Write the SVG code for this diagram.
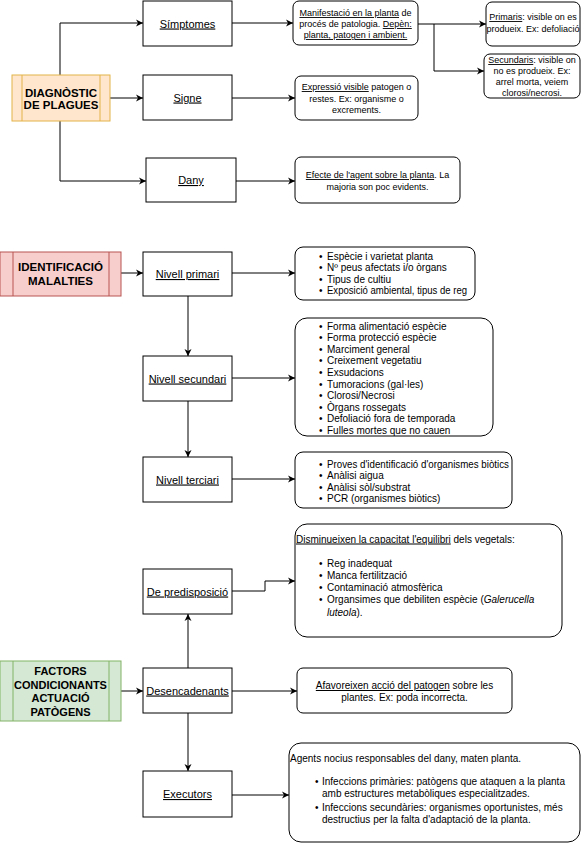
<svg xmlns="http://www.w3.org/2000/svg" width="585" height="848" viewBox="0 0 585 848">
<defs>
<marker id="arr" markerWidth="8" markerHeight="8" refX="7" refY="4" orient="auto" markerUnits="userSpaceOnUse">
<path d="M0,0.5 L7,4 L0,7.5 L2,4 z" fill="#000"/>
</marker>
<style>
text{font-family:"Liberation Sans",Arial,sans-serif;fill:#000}
.box{fill:#fff;stroke:#000;stroke-width:1}
.rbox{fill:#fff;stroke:#000;stroke-width:1}
.lbl{font-size:11px;text-anchor:middle;text-decoration:underline}
.ttl{font-size:11.5px;font-weight:bold;text-anchor:middle}
.s9{font-size:9px;text-anchor:middle}
.s10{font-size:10px}
.u{text-decoration:underline}
.con{fill:none;stroke:#000;stroke-width:1;marker-end:url(#arr)}
</style>
</defs>
<rect width="585" height="848" fill="#fff"/>

<g id="connectors">
<path class="con" d="M60,75 V23 H143"/>
<path class="con" d="M110,98 H143"/>
<path class="con" d="M60,121 V181 H146"/>
<path class="con" d="M232,23 H293"/>
<path class="con" d="M232,98 H295"/>
<path class="con" d="M236,181 H295"/>
<path class="con" d="M418,24 H486"/>
<path class="con" d="M434,24 V71 H484"/>
<path class="con" d="M121,273 H143"/>
<path class="con" d="M232,273 H295"/>
<path class="con" d="M188,296 V356"/>
<path class="con" d="M232,378 H295"/>
<path class="con" d="M188,401 V457"/>
<path class="con" d="M232,479 H295"/>
<path class="con" d="M232,591 H265 V581 H295"/>
<path class="con" d="M188,668 V614"/>
<path class="con" d="M121,691 H143"/>
<path class="con" d="M232,691 H297"/>
<path class="con" d="M188,713 V771"/>
<path class="con" d="M232,795 H289"/>
</g>

<g id="diagnostic">
<rect x="12" y="75" width="98" height="46" fill="#ffe6cc" stroke="#e4b34a"/>
<line x1="22" y1="75" x2="22" y2="121" stroke="#e4b34a"/>
<line x1="100" y1="75" x2="100" y2="121" stroke="#e4b34a"/>
<text class="ttl" x="61" y="97">DIAGNÒSTIC</text>
<text class="ttl" x="61" y="109">DE PLAGUES</text>
</g>
<g id="simptomes"><rect class="box" x="143" y="1" width="89" height="45"/><text class="lbl" x="187.5" y="27.5">Símptomes</text></g>
<g id="signe"><rect class="box" x="143" y="75" width="89" height="45"/><text class="lbl" x="187.5" y="101.5">Signe</text></g>
<g id="dany"><rect class="box" x="146" y="158" width="90" height="44"/><text class="lbl" x="191" y="184">Dany</text></g>

<g id="manifestacio">
<rect class="rbox" x="293" y="1" width="125" height="44" rx="6"/>
<text class="s9" x="355.5" y="16"><tspan class="u">Manifestació en la planta</tspan> de</text>
<text class="s9" x="355.5" y="27">procés de patologia. <tspan class="u">Depèn:</tspan></text>
<text class="s9" x="355.5" y="38"><tspan class="u">planta, patogen i ambient.</tspan></text>
</g>
<g id="primaris">
<rect class="rbox" x="486" y="2" width="94" height="44" rx="6"/>
<text class="s9" x="533" y="20"><tspan class="u">Primaris</tspan>: visible on es</text>
<text class="s9" x="533" y="32">produeix. Ex: defoliació</text>
</g>
<g id="secundaris">
<rect class="rbox" x="484" y="54" width="96" height="44" rx="6"/>
<text class="s9" x="532" y="63"><tspan class="u">Secundaris</tspan>: visible on</text>
<text class="s9" x="532" y="74">no es produeix. Ex:</text>
<text class="s9" x="532" y="85">arrel morta, veiem</text>
<text class="s9" x="532" y="95.5">clorosi/necrosi.</text>
</g>
<g id="expressio">
<rect class="rbox" x="295" y="76" width="123" height="44" rx="6"/>
<text class="s9" x="356.5" y="90"><tspan class="u">Expressió visible</tspan> patogen o</text>
<text class="s9" x="356.5" y="102">restes. Ex: organisme o</text>
<text class="s9" x="356.5" y="113">excrements.</text>
</g>
<g id="efecte">
<rect class="rbox" x="295" y="157" width="165" height="46" rx="6"/>
<text class="s9" x="377.5" y="178"><tspan class="u">Efecte de l'agent sobre la planta</tspan>. La</text>
<text class="s9" x="377.5" y="190">majoria son poc evidents.</text>
</g>

<g id="identificacio">
<rect x="0" y="252" width="121" height="44" fill="#f8cecc" stroke="#b85450"/>
<line x1="13" y1="252" x2="13" y2="296" stroke="#b85450"/>
<line x1="109" y1="252" x2="109" y2="296" stroke="#b85450"/>
<text class="ttl" x="60.5" y="271">IDENTIFICACIÓ</text>
<text class="ttl" x="60.5" y="285">MALALTIES</text>
</g>
<g id="nivell-primari"><rect class="box" x="143" y="252" width="89" height="44"/><text class="lbl" x="187.5" y="278">Nivell primari</text></g>
<g id="nivell-secundari"><rect class="box" x="143" y="356" width="89" height="45"/><text class="lbl" x="187.5" y="382.5">Nivell secundari</text></g>
<g id="nivell-terciari"><rect class="box" x="143" y="457" width="89" height="45"/><text class="lbl" x="187.5" y="483.5">Nivell terciari</text></g>

<g id="llista-primari" class="s10">
<rect class="rbox" x="295" y="247" width="180" height="53" rx="8"/>
<text x="319" y="259.5">•</text><text x="327" y="259.5">Espècie i varietat planta</text>
<text x="319" y="271">•</text><text x="327" y="271">Nº peus afectats i/o òrgans</text>
<text x="319" y="282.5">•</text><text x="327" y="282.5">Tipus de cultiu</text>
<text x="319" y="294">•</text><text x="327" y="294" textLength="140" lengthAdjust="spacingAndGlyphs">Exposició ambiental, tipus de reg</text>
</g>
<g id="llista-secundari" class="s10">
<rect class="rbox" x="295" y="318" width="198" height="118" rx="12"/>
<text x="319" y="329.5">•</text><text x="327" y="329.5">Forma alimentació espècie</text>
<text x="319" y="341">•</text><text x="327" y="341">Forma protecció espècie</text>
<text x="319" y="352.7">•</text><text x="327" y="352.7">Marciment general</text>
<text x="319" y="364.3">•</text><text x="327" y="364.3">Creixement vegetatiu</text>
<text x="319" y="376">•</text><text x="327" y="376">Exsudacions</text>
<text x="319" y="387.6">•</text><text x="327" y="387.6">Tumoracions (gal·les)</text>
<text x="319" y="399.2">•</text><text x="327" y="399.2">Clorosi/Necrosi</text>
<text x="319" y="410.8">•</text><text x="327" y="410.8">Òrgans rossegats</text>
<text x="319" y="422.4">•</text><text x="327" y="422.4">Defoliació fora de temporada</text>
<text x="319" y="434">•</text><text x="327" y="434">Fulles mortes que no cauen</text>
</g>
<g id="llista-terciari" class="s10">
<rect class="rbox" x="295" y="452" width="217" height="56" rx="8"/>
<text x="319" y="467.5">•</text><text x="327" y="467.5" textLength="182" lengthAdjust="spacingAndGlyphs">Proves d'identificació d'organismes biòtics</text>
<text x="319" y="479">•</text><text x="327" y="479">Anàlisi aigua</text>
<text x="319" y="490.5">•</text><text x="327" y="490.5">Anàlisi sòl/substrat</text>
<text x="319" y="502">•</text><text x="327" y="502">PCR (organismes biòtics)</text>
</g>

<g id="factors">
<rect x="0" y="661" width="121" height="60" fill="#d5e8d4" stroke="#82b366"/>
<line x1="13" y1="661" x2="13" y2="721" stroke="#82b366"/>
<line x1="109" y1="661" x2="109" y2="721" stroke="#82b366"/>
<text class="ttl" x="60.5" y="675" style="font-size:11px">FACTORS</text>
<text class="ttl" x="60.5" y="688.5" style="font-size:11px">CONDICIONANTS</text>
<text class="ttl" x="60.5" y="702" style="font-size:11px">ACTUACIÓ</text>
<text class="ttl" x="60.5" y="715.5" style="font-size:11px">PATÒGENS</text>
</g>
<g id="predisposicio"><rect class="box" x="143" y="569" width="89" height="45"/><text class="lbl" x="187.5" y="595.5">De predisposició</text></g>
<g id="desencadenants"><rect class="box" x="143" y="668" width="89" height="45"/><text class="lbl" x="187.5" y="694.5">Desencadenants</text></g>
<g id="executors"><rect class="box" x="143" y="771" width="89" height="46"/><text class="lbl" x="187.5" y="798">Executors</text></g>

<g id="disminueixen" class="s10">
<rect class="rbox" x="295" y="524" width="267" height="113" rx="12"/>
<text x="296" y="542.5"><tspan class="u">Disminueixen la capacitat l'equilibri</tspan> dels vegetals:</text>
<text x="319" y="566.5">•</text><text x="327" y="566.5">Reg inadequat</text>
<text x="319" y="578.5">•</text><text x="327" y="578.5">Manca fertilització</text>
<text x="319" y="591">•</text><text x="327" y="591">Contaminació atmosfèrica</text>
<text x="319" y="603">•</text><text x="327" y="603">Organsimes que debiliten espècie (<tspan font-style="italic">Galerucella</tspan></text>
<text x="327" y="616"><tspan font-style="italic">luteola</tspan>).</text>
</g>
<g id="afavoreixen">
<rect class="rbox" x="297" y="668" width="215" height="45" rx="6"/>
<text class="s10" x="404.5" y="689" text-anchor="middle"><tspan class="u">Afavoreixen acció del patogen</tspan> sobre les</text>
<text class="s10" x="404.5" y="701" text-anchor="middle">plantes. Ex: poda incorrecta.</text>
</g>
<g id="agents" class="s10">
<rect class="rbox" x="289" y="743" width="291" height="99" rx="12"/>
<text x="290" y="761.5">Agents nocius responsables del dany, maten planta.</text>
<text x="315" y="784.5">•</text><text x="322" y="784.5">Infeccions primàries: patògens que ataquen a la planta</text>
<text x="322" y="796.5">amb estructures metabòliques especialitzades.</text>
<text x="315" y="810.5">•</text><text x="322" y="810.5">Infeccions secundàries: organismes oportunistes, més</text>
<text x="322" y="822.5">destructius per la falta d'adaptació de la planta.</text>
</g>
</svg>
